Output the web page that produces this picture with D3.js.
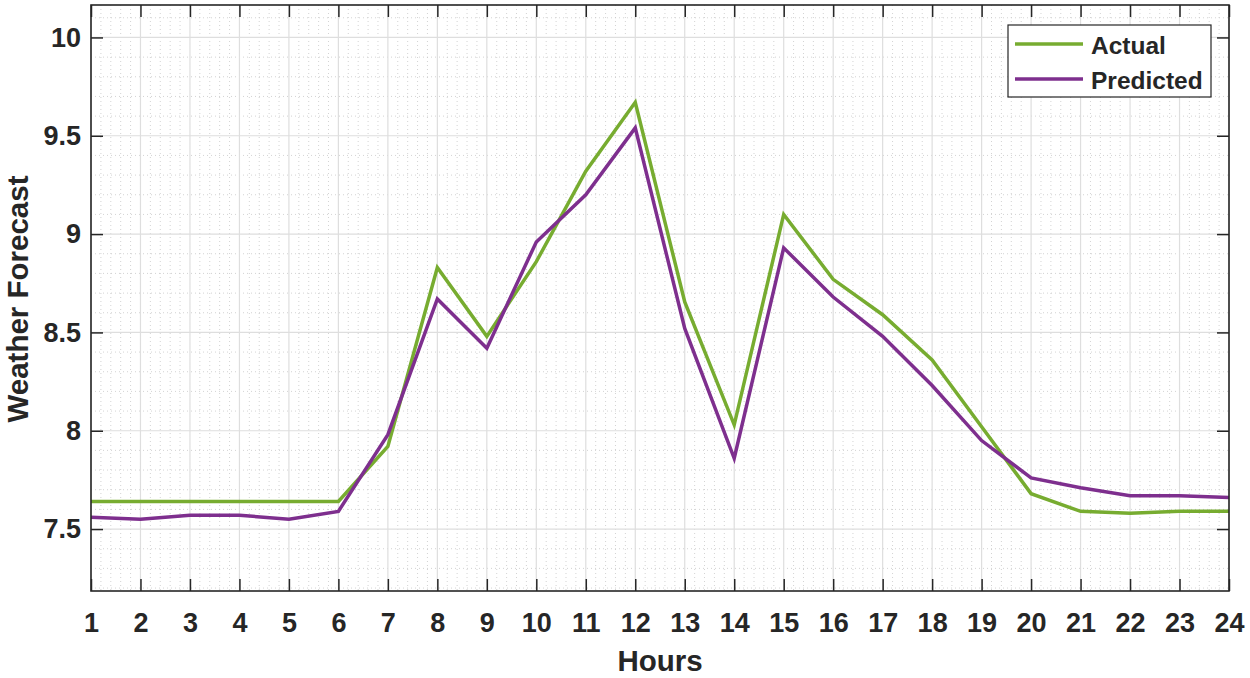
<!DOCTYPE html>
<html>
<head>
<meta charset="utf-8">
<script src="https://cdn.jsdelivr.net/npm/d3@7"></script>
<style>
  body { margin: 0; background: #fff; }
  text { font-family: "Liberation Sans", Arial, sans-serif; font-weight: bold; fill: #262626; }
</style>
</head>
<body>
<div id="chart"></div>
<script>
// hours on the x axis
const hours = d3.range(1, 25);
// series values
const actual = [7.64, 7.64, 7.64, 7.64, 7.64, 7.64, 7.92, 8.83, 8.48, 8.86, 9.32, 9.67,
  8.655, 8.03, 9.10, 8.77, 8.59, 8.36, 8.02, 7.68, 7.59, 7.58, 7.59, 7.59];
const predicted = [7.56, 7.55, 7.57, 7.57, 7.55, 7.59, 7.98, 8.67, 8.42, 8.96, 9.20, 9.54,
  8.52, 7.86, 8.93, 8.68, 8.48, 8.23, 7.95, 7.76, 7.71, 7.67, 7.67, 7.66];
const yTicks = [7.5, 8, 8.5, 9, 9.5, 10];
const seriesNames = ['Actual', 'Predicted'];
const seriesColors = ['#77AC30', '#7E2F8E'];

const width = 1250, height = 678;
const margin = { top: 5, right: 21, bottom: 87, left: 91 };
const innerW = width - margin.left - margin.right;
const innerH = height - margin.top - margin.bottom;

const svg = d3.select('#chart').append('svg')
  .attr('width', width).attr('height', height);

const g = svg.append('g').attr('transform', `translate(${margin.left},${margin.top})`);

const x = d3.scaleLinear().domain([1, 24]).range([0, innerW]);
const y = d3.scaleLinear().domain([7.185, 10.165]).range([innerH, 0]);

// minor grid (dotted)
const xMinor = d3.range(1, 24.001, 0.2).filter(v => Math.abs(v - Math.round(v)) > 0.01);
const yMinor = d3.range(7.2, 10.2, 0.1).filter(v => Math.abs(v * 2 - Math.round(v * 2)) > 0.01);
g.append('g').selectAll('line').data(xMinor).join('line')
  .attr('x1', d => x(d)).attr('x2', d => x(d)).attr('y1', 0).attr('y2', innerH)
  .attr('stroke', '#c8c8c8').attr('stroke-width', 0.8).attr('stroke-dasharray', '1,3');
g.append('g').selectAll('line').data(yMinor).join('line')
  .attr('y1', d => y(d)).attr('y2', d => y(d)).attr('x1', 0).attr('x2', innerW)
  .attr('stroke', '#c8c8c8').attr('stroke-width', 0.8).attr('stroke-dasharray', '1,3');

// major grid
g.append('g').selectAll('line').data(hours).join('line')
  .attr('x1', d => x(d)).attr('x2', d => x(d)).attr('y1', 0).attr('y2', innerH)
  .attr('stroke', '#dedede').attr('stroke-width', 1.2);
g.append('g').selectAll('line').data(yTicks).join('line')
  .attr('y1', d => y(d)).attr('y2', d => y(d)).attr('x1', 0).attr('x2', innerW)
  .attr('stroke', '#dedede').attr('stroke-width', 1.2);

// lines
const line = d3.line().x((d, i) => x(hours[i])).y(d => y(d));
[actual, predicted].forEach((s, i) => {
  g.append('path').datum(s)
    .attr('fill', 'none')
    .attr('stroke', seriesColors[i])
    .attr('stroke-width', 3.5)
    .attr('stroke-linejoin', 'miter')
    .attr('d', line);
});

// axes, ticks inward on all sides
const tickLen = 12;
const xAxis = d3.axisBottom(x).tickValues(hours).tickSize(-tickLen).tickPadding(22).tickFormat(d3.format('d'));
const yAxis = d3.axisLeft(y).tickValues(yTicks).tickSize(-tickLen).tickPadding(10).tickFormat(d => d);

const gx = g.append('g').attr('transform', `translate(0,${innerH})`).call(xAxis);
const gy = g.append('g').call(yAxis);
g.append('g').call(d3.axisTop(x).tickValues(hours).tickSize(-tickLen).tickFormat(''));
g.append('g').attr('transform', `translate(${innerW},0)`)
  .call(d3.axisRight(y).tickValues(yTicks).tickSize(-tickLen).tickFormat(''));

g.selectAll('.domain').remove();
g.selectAll('.tick line').attr('stroke', '#262626').attr('stroke-width', 1.5);
[gx, gy].forEach(a => a.selectAll('text')
  .style('font-size', '27px').style('font-weight', 'bold').attr('fill', '#262626'));

// frame
g.append('rect').attr('width', innerW).attr('height', innerH)
  .attr('fill', 'none').attr('stroke', '#262626').attr('stroke-width', 1.6);

// axis titles
svg.append('text')
  .attr('x', 660).attr('y', 671)
  .attr('text-anchor', 'middle').style('font-size', '29.5px')
  .text('Hours');
svg.append('text')
  .attr('transform', `translate(28,299) rotate(-90)`)
  .attr('text-anchor', 'middle').style('font-size', '29.5px')
  .text('Weather Forecast');

// legend
const legend = svg.append('g').attr('transform', 'translate(1008,25)');
legend.append('rect').attr('width', 203).attr('height', 72)
  .attr('fill', '#fff').attr('stroke', '#262626').attr('stroke-width', 1.2);
seriesNames.forEach((name, i) => {
  const ly = 19 + i * 35;
  legend.append('line').attr('x1', 7).attr('x2', 75).attr('y1', ly).attr('y2', ly)
    .attr('stroke', seriesColors[i]).attr('stroke-width', 3.5);
  legend.append('text').attr('x', 83).attr('y', ly + 9.5)
    .style('font-size', '24.5px').attr('fill', '#000').text(name);
});
</script>
</body>
</html>
